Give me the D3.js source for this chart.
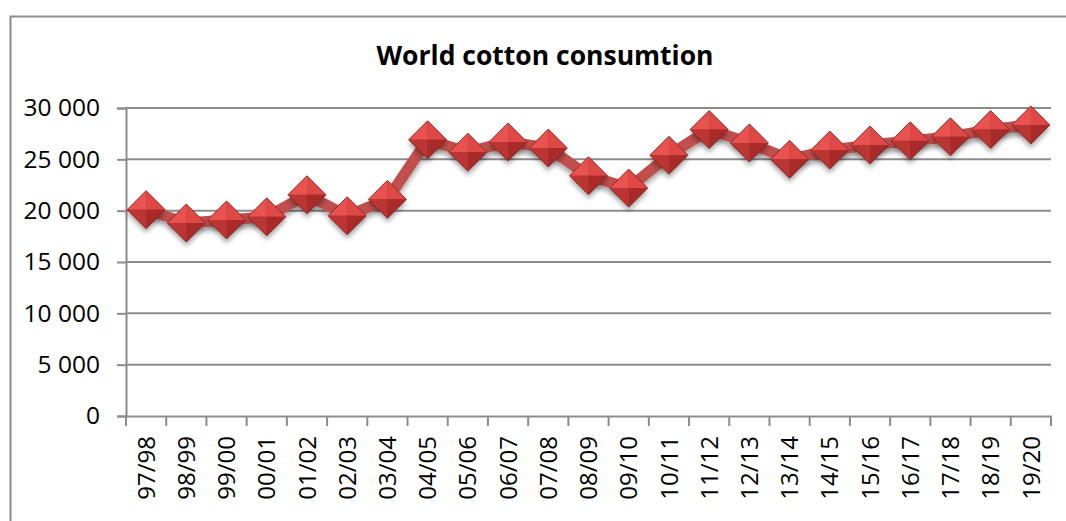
<!DOCTYPE html>
<html><head><meta charset="utf-8">
<script src="https://cdn.jsdelivr.net/npm/d3@7"></script>
<style>body{margin:0;background:#fff}svg{display:block}</style>
</head><body>
<svg id="c" width="1066" height="521"></svg>
<script>
const categories = ["97/98","98/99","99/00","00/01","01/02","02/03","03/04","04/05","05/06","06/07","07/08","08/09","09/10","10/11","11/12","12/13","13/14","14/15","15/16","16/17","17/18","18/19","19/20"];
const consumption = [20100,18800,19100,19400,21550,19500,21100,26900,25700,26700,26100,23400,22200,25400,27900,26600,25000,25900,26400,26800,27200,27900,28350];
const yTicks = [0,5000,10000,15000,20000,25000,30000];
const title = "World cotton consumtion";

const svg = d3.select("#c");
const font = "'Open Sans', sans-serif";
const grid = "#8c8c8c";

// frame
svg.append("path").attr("d","M10.5,521 L10.5,16.5 L1066,16.5").attr("fill","none").attr("stroke","#8c8c8c").attr("stroke-width",2);

const x = d3.scaleBand().domain(categories).range([126,1051]).paddingInner(0).paddingOuter(0);
const y = d3.scaleLinear().domain([0,30000]).range([416,108]);

const defs = svg.append("defs");
const f = defs.append("filter").attr("id","sh").attr("x","-50%").attr("y","-50%").attr("width","200%").attr("height","200%");
f.append("feDropShadow").attr("dx",0).attr("dy",4).attr("stdDeviation",2.5).attr("flood-color","#000").attr("flood-opacity",0.35);

// gridlines
svg.append("g").selectAll("line").data(yTicks.filter(d=>d>0)).join("line")
  .attr("x1",126).attr("x2",1051).attr("y1",d=>y(d)).attr("y2",d=>y(d))
  .attr("stroke",grid).attr("stroke-width",2);

// y axis
const ya = svg.append("g").attr("transform","translate(126,0)")
  .call(d3.axisLeft(y).tickValues(yTicks).tickSize(9).tickPadding(17).tickFormat(d=>d3.format(",")(d).replace(/,/g," ")));
ya.select(".domain").attr("stroke",grid).attr("stroke-width",2);
ya.selectAll(".tick line").attr("stroke",grid).attr("stroke-width",2);
ya.selectAll("text").attr("font-family",font).attr("font-size",24.5).attr("fill","#000");

// x axis
const xa = svg.append("g").attr("transform",`translate(0,${y(0)})`)
  .call(d3.axisBottom(x).tickSize(0).tickSizeOuter(0));
xa.select(".domain").attr("stroke",grid).attr("stroke-width",2);
xa.selectAll(".tick line").remove();
xa.selectAll(".tick text").attr("font-family",font).attr("font-size",24).attr("fill","#000")
  .attr("text-anchor","end").attr("transform","rotate(-90)").attr("x",-20).attr("y",0).attr("dy","0.36em");
// boundary ticks
const bounds = categories.map(c=>x(c)).concat([x(categories[categories.length-1])+x.bandwidth()]);
svg.append("g").selectAll("line").data(bounds).join("line")
  .attr("x1",d=>d).attr("x2",d=>d).attr("y1",y(0)).attr("y2",y(0)+10)
  .attr("stroke",grid).attr("stroke-width",2);

// title
svg.append("text").attr("x",545).attr("y",65).attr("text-anchor","middle")
  .attr("font-family",font).attr("font-weight","bold").attr("font-size",26.5).attr("fill","#000").text(title);

const cx = c => x(c)+x.bandwidth()/2;
const pts = categories.map((c,i)=>[cx(c), y(consumption[i])]);

// line
svg.append("path").attr("d",d3.line()(pts)).attr("fill","none")
  .attr("stroke","#c0504d").attr("stroke-width",11).attr("stroke-linejoin","round")
  .attr("filter","url(#sh)");

// markers
const r = 19;
const mg = svg.append("g").selectAll("g").data(pts).join("g")
  .attr("transform",d=>`translate(${d[0]},${d[1]})`);
mg.append("path").attr("d",`M0,${-r}L${r},0L0,${r}L${-r},0Z`).attr("fill","#b73331").attr("filter","url(#sh)");
mg.append("path").attr("d",`M0,${-r}L${-r},0L0,0Z`).attr("fill","#e8524f");
mg.append("path").attr("d",`M0,${-r}L${r},0L0,0Z`).attr("fill","#de4946");
mg.append("path").attr("d",`M${-r},0L0,${r}L0,0Z`).attr("fill","#bb3533");
mg.append("path").attr("d",`M${r},0L0,${r}L0,0Z`).attr("fill","#a82b2a");
mg.append("path").attr("d",`M0,${-r}L${r},0L0,${r}L${-r},0Z`).attr("fill","none").attr("stroke","#7a2020").attr("stroke-width",1).attr("stroke-opacity",0.7);
</script>
</body></html>
